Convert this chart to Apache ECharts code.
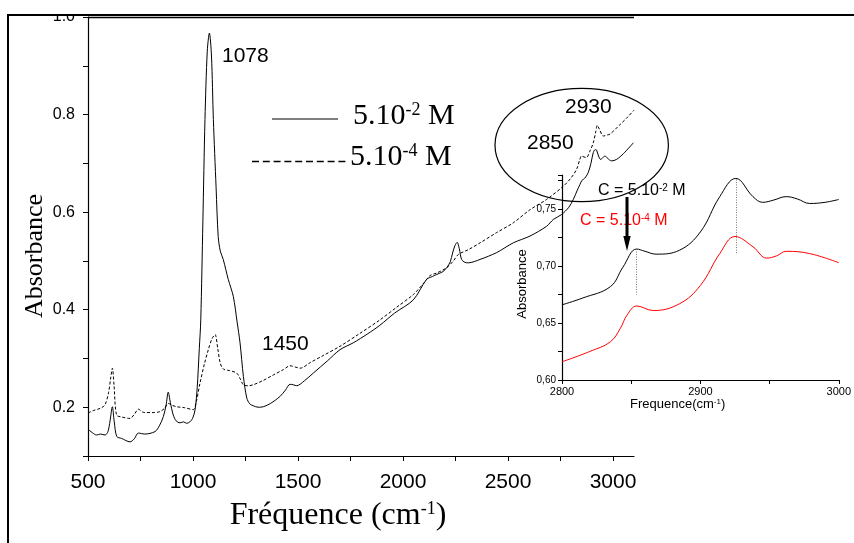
<!DOCTYPE html>
<html lang="fr">
<head>
<meta charset="UTF-8">
<title>Absorbance</title>
<script src="https://cdn.jsdelivr.net/npm/echarts@6/dist/echarts.min.js"></script>
<style>
    * { margin: 0; padding: 0; }
    html, body { width: 854px; height: 543px; background: #fff; }
    #main { width: 854px; height: 543px; }
</style>
</head>
<body>
<div id="main"></div>
<script>
    // spectre principal, 5.10-2 M (trait plein)
    var freqHigh = [500, 520, 541, 560, 581, 595, 605, 616, 625, 637, 660, 700, 720, 740, 770, 819, 840, 859, 872, 882, 892, 906, 920, 938, 955, 970, 985, 998,
        1010, 1020, 1030, 1037, 1047, 1057, 1068, 1078, 1088, 1097, 1110, 1120, 1130, 1144, 1168, 1192, 1210, 1224, 1240, 1256, 1270, 1287, 1310, 1335, 1370,
        1414, 1440, 1462, 1478, 1494, 1530, 1573, 1640, 1700, 1763, 1830, 1890, 1960, 2049, 2112, 2140, 2160, 2190, 2208, 2225, 2236, 2248, 2258, 2268, 2279,
        2295, 2311, 2367, 2446, 2525, 2605, 2684, 2716, 2755, 2790, 2811, 2830, 2843, 2852, 2859, 2870, 2882, 2895, 2906, 2915, 2922, 2931, 2941, 2950, 2962,
        2975, 2993, 3017, 3050, 3097];
    var absHigh = [0.155, 0.148, 0.143, 0.145, 0.143, 0.150, 0.172, 0.201, 0.170, 0.140, 0.136, 0.129, 0.135, 0.147, 0.145, 0.150, 0.162, 0.181, 0.205, 0.231,
        0.210, 0.184, 0.172, 0.168, 0.170, 0.167, 0.170, 0.177, 0.195, 0.240, 0.320, 0.379, 0.580, 0.790, 0.930, 0.967, 0.920, 0.790, 0.650, 0.550, 0.520, 0.503,
        0.462, 0.427, 0.375, 0.332, 0.263, 0.219, 0.207, 0.203, 0.200, 0.201, 0.208, 0.222, 0.235, 0.247, 0.246, 0.244, 0.254, 0.270, 0.295, 0.318, 0.332, 0.350,
        0.368, 0.393, 0.420, 0.462, 0.468, 0.472, 0.478, 0.486, 0.498, 0.516, 0.532, 0.538, 0.525, 0.503, 0.497, 0.496, 0.503, 0.517, 0.537, 0.551, 0.571, 0.585,
        0.595, 0.610, 0.626, 0.645, 0.657, 0.665, 0.667, 0.672, 0.681, 0.700, 0.722, 0.728, 0.727, 0.715, 0.708, 0.711, 0.715, 0.710, 0.705, 0.708, 0.720, 0.742];

    // spectre principal, 5.10-4 M (pointillés)
    var freqLow = [500, 525, 560, 581, 598, 608, 616, 624, 636, 660, 700, 720, 740, 760, 779, 810, 843, 865, 882, 900, 922, 960, 1001, 1015, 1033, 1055, 1073,
        1090, 1105, 1118, 1130, 1145, 1175, 1208, 1225, 1240, 1265, 1287, 1330, 1382, 1430, 1462, 1490, 1510, 1560, 1620, 1700, 1790, 1890, 1970, 2049, 2100,
        2129, 2160, 2208, 2240, 2263, 2311, 2367, 2446, 2525, 2605, 2684, 2763, 2800, 2827, 2842, 2850, 2862, 2874, 2890, 2906, 2918, 2925, 2935, 2954, 2970,
        2986, 3030, 3070, 3100];
    var absLow = [0.188, 0.193, 0.198, 0.205, 0.230, 0.260, 0.280, 0.245, 0.184, 0.180, 0.177, 0.185, 0.196, 0.190, 0.189, 0.189, 0.191, 0.198, 0.208, 0.204,
        0.201, 0.199, 0.195, 0.210, 0.249, 0.290, 0.318, 0.340, 0.349, 0.320, 0.290, 0.278, 0.275, 0.270, 0.258, 0.246, 0.244, 0.246, 0.254, 0.266, 0.277, 0.285,
        0.282, 0.280, 0.292, 0.306, 0.325, 0.350, 0.379, 0.405, 0.431, 0.455, 0.470, 0.475, 0.486, 0.500, 0.513, 0.523, 0.537, 0.558, 0.578, 0.605, 0.626, 0.653,
        0.670, 0.688, 0.708, 0.715, 0.713, 0.712, 0.725, 0.742, 0.765, 0.778, 0.770, 0.756, 0.758, 0.760, 0.778, 0.795, 0.809];

    // encart 2800-3000
    var insetFreqHigh = [2800, 2815, 2835, 2844, 2854, 2860, 2868, 2885, 2900, 2914, 2925.6, 2938, 2945, 2953, 2962, 2970, 2979, 2990, 3000];
    var insetAbsHigh = [0.666, 0.672, 0.682, 0.699, 0.715, 0.713, 0.7105, 0.714, 0.730, 0.761, 0.777, 0.761, 0.756, 0.758, 0.761, 0.759, 0.755, 0.756, 0.7585];
    var insetFreqLow = [2800, 2820, 2835, 2842, 2847, 2854, 2866, 2885, 2900, 2914, 2925, 2938, 2948, 2955, 2962, 2979, 3000];
    var insetAbsLow = [0.616, 0.625, 0.6336, 0.645, 0.657, 0.665, 0.661, 0.667, 0.683, 0.711, 0.726, 0.717, 0.707, 0.709, 0.713, 0.711, 0.703];

    // repères pointillés des pics 2850 / 2930
    var peakFreq = [2854, 2926];
    var peakTop = [0.715, 0.776];
    var peakBottom = [0.675, 0.710];

    function pairs(xs, ys) {
        return xs.map(function (x, i) { return [x, ys[i]]; });
    }

    var sans = 'Liberation Sans';
    var serif = 'Liberation Serif';

    var myChart = echarts.init(document.getElementById('main'));

    var axisBlack = { lineStyle: { color: '#000', width: 1.2 } };

    var option = {
        animation: false,
        backgroundColor: '#fff',
        grid: [
            { left: 88, top: 17, right: 220, bottom: 87 },
            { left: 562, top: 175, right: 15, bottom: 163 }
        ],
        xAxis: [{
            gridIndex: 0,
            type: 'value',
            min: 500,
            max: 3100,
            interval: 250,
            axisLine: axisBlack,
            axisTick: { length: 5, lineStyle: { color: '#000' } },
            splitLine: { show: false },
            axisLabel: {
                margin: 16, color: '#000', fontFamily: sans, fontSize: 21, showMaxLabel: false,
                formatter: function (v) { return v % 500 === 0 ? String(v) : ''; }
            }
        }, {
            gridIndex: 1,
            type: 'value',
            min: 2800,
            max: 3000,
            interval: 100,
            axisLine: axisBlack,
            axisTick: { length: 4, lineStyle: { color: '#000' } },
            minorTick: { show: true, splitNumber: 2, length: 4, lineStyle: { color: '#000' } },
            splitLine: { show: false },
            axisLabel: {
                margin: 6, color: '#000', fontFamily: sans, fontSize: 11,
                formatter: function (v) { return String(v); }
            }
        }],
        yAxis: [{
            gridIndex: 0,
            type: 'value',
            min: 0.1,
            max: 1.0,
            interval: 0.1,
            axisLine: axisBlack,
            axisTick: { length: 5, lineStyle: { color: '#000' } },
            splitLine: { show: false },
            axisLabel: {
                margin: 13, color: '#000', fontFamily: sans, fontSize: 16,
                formatter: function (v) { return Math.round(v * 10) % 2 === 0 ? v.toFixed(1) : ''; }
            }
        }, {
            gridIndex: 1,
            type: 'value',
            min: 0.6,
            max: 0.78,
            interval: 0.05,
            axisLine: axisBlack,
            axisTick: { length: 4, lineStyle: { color: '#000' } },
            minorTick: { show: true, splitNumber: 2, length: 4, lineStyle: { color: '#000' } },
            splitLine: { show: false },
            axisLabel: {
                margin: 6, color: '#000', fontFamily: sans, fontSize: 10, showMaxLabel: false,
                formatter: function (v) { return v.toFixed(2).replace('.', ','); }
            }
        }],
        series: [{
            type: 'line', xAxisIndex: 0, yAxisIndex: 0,
            data: pairs(freqHigh, absHigh),
            showSymbol: false, smooth: 0.3,
            lineStyle: { color: '#000', width: 1 }
        }, {
            type: 'line', xAxisIndex: 0, yAxisIndex: 0,
            data: pairs(freqLow, absLow),
            showSymbol: false, smooth: 0.3,
            lineStyle: { color: '#000', width: 1, type: [3, 2] }
        }, {
            type: 'line', xAxisIndex: 1, yAxisIndex: 1,
            data: pairs(insetFreqHigh, insetAbsHigh),
            showSymbol: false, smooth: 0.4,
            lineStyle: { color: '#000', width: 1 },
            markLine: {
                silent: true,
                symbol: 'none',
                label: { show: false },
                lineStyle: { color: '#777', width: 1, type: [1, 1.5] },
                data: peakFreq.map(function (f, i) {
                    return [{ coord: [f, peakTop[i]] }, { coord: [f, peakBottom[i]] }];
                })
            }
        }, {
            type: 'line', xAxisIndex: 1, yAxisIndex: 1,
            data: pairs(insetFreqLow, insetAbsLow),
            showSymbol: false, smooth: 0.4,
            lineStyle: { color: '#ff0000', width: 1 }
        }],
        graphic: [
            // bord découpé en haut
            { type: 'rect', shape: { x: 0, y: 0, width: 854, height: 14 }, style: { fill: '#fff' }, z: 100 },
            { type: 'line', shape: { x1: 7, y1: 15, x2: 854, y2: 15 }, style: { stroke: '#000', lineWidth: 2 }, z: 101 },
            { type: 'line', shape: { x1: 8, y1: 15, x2: 8, y2: 543 }, style: { stroke: '#000', lineWidth: 2 }, z: 101 },
            { type: 'line', shape: { x1: 88, y1: 17.5, x2: 634, y2: 17.5 }, style: { stroke: '#000', lineWidth: 1.3 }, z: 101 },

            // titres des axes
            {
                type: 'text', x: 338, y: 516, z: 50,
                style: {
                    text: '{n|Fréquence (cm}{s|-1}{n|)}', align: 'center', verticalAlign: 'middle',
                    rich: { n: { fontFamily: serif, fontSize: 32, fill: '#000' }, s: { fontFamily: serif, fontSize: 18, fill: '#000', verticalAlign: 'top' } }
                }
            },
            {
                type: 'text', x: 35, y: 256, rotation: Math.PI / 2, z: 50,
                style: { text: 'Absorbance', align: 'center', verticalAlign: 'middle', fontFamily: serif, fontSize: 26, fill: '#000' }
            },
            {
                type: 'text', x: 630, y: 404, z: 50,
                style: {
                    text: '{n|Frequence(cm}{s|-1}{n|)}', align: 'left', verticalAlign: 'middle',
                    rich: { n: { fontFamily: sans, fontSize: 13, fill: '#000' }, s: { fontFamily: sans, fontSize: 8, fill: '#000', verticalAlign: 'top' } }
                }
            },
            {
                type: 'text', x: 522, y: 284, rotation: Math.PI / 2, z: 50,
                style: { text: 'Absorbance', align: 'center', verticalAlign: 'middle', fontFamily: sans, fontSize: 13, fill: '#000' }
            },

            // légende
            { type: 'line', shape: { x1: 272, y1: 119, x2: 338, y2: 119 }, style: { stroke: '#000', lineWidth: 1.2 }, z: 50 },
            {
                type: 'text', x: 353, y: 116, z: 50,
                style: {
                    text: '{n|5.10}{s|-2}{n| M}', align: 'left', verticalAlign: 'middle',
                    rich: { n: { fontFamily: serif, fontSize: 30, fill: '#000' }, s: { fontFamily: serif, fontSize: 18, fill: '#000', verticalAlign: 'top' } }
                }
            },
            { type: 'line', shape: { x1: 252, y1: 161.5, x2: 349, y2: 161.5 }, style: { stroke: '#000', lineWidth: 1.5, lineDash: [7, 3.8] }, z: 50 },
            {
                type: 'text', x: 350, y: 157, z: 50,
                style: {
                    text: '{n|5.10}{s|-4}{n| M}', align: 'left', verticalAlign: 'middle',
                    rich: { n: { fontFamily: serif, fontSize: 30, fill: '#000' }, s: { fontFamily: serif, fontSize: 18, fill: '#000', verticalAlign: 'top' } }
                }
            },

            // annotations des pics
            { type: 'text', x: 222, y: 56, z: 50, style: { text: '1078', align: 'left', verticalAlign: 'middle', fontFamily: sans, fontSize: 21, fill: '#000' } },
            { type: 'text', x: 262, y: 344, z: 50, style: { text: '1450', align: 'left', verticalAlign: 'middle', fontFamily: sans, fontSize: 21, fill: '#000' } },
            { type: 'text', x: 565, y: 107, z: 50, style: { text: '2930', align: 'left', verticalAlign: 'middle', fontFamily: sans, fontSize: 21, fill: '#000' } },
            { type: 'text', x: 527, y: 143, z: 50, style: { text: '2850', align: 'left', verticalAlign: 'middle', fontFamily: sans, fontSize: 21, fill: '#000' } },
            { type: 'ellipse', shape: { cx: 581.7, cy: 145, rx: 86.7, ry: 56.7 }, style: { fill: 'none', stroke: '#000', lineWidth: 1.2 }, z: 50 },

            // encart : concentrations + flèche
            {
                type: 'text', x: 598, y: 191, z: 50,
                style: {
                    text: '{n|C = 5.10}{s|-2}{n| M}', align: 'left', verticalAlign: 'middle',
                    rich: { n: { fontFamily: sans, fontSize: 16, fill: '#000' }, s: { fontFamily: sans, fontSize: 10, fill: '#000', verticalAlign: 'top' } }
                }
            },
            {
                type: 'text', x: 580, y: 221, z: 50,
                style: {
                    text: '{n|C = 5.10}{s|-4}{n| M}', align: 'left', verticalAlign: 'middle',
                    rich: { n: { fontFamily: sans, fontSize: 16, fill: '#ff0000' }, s: { fontFamily: sans, fontSize: 10, fill: '#ff0000', verticalAlign: 'top' } }
                }
            },
            { type: 'line', shape: { x1: 627, y1: 197, x2: 627, y2: 239 }, style: { stroke: '#000', lineWidth: 3 }, z: 60 },
            { type: 'polygon', shape: { points: [[623.3, 236], [630.7, 236], [627, 251]] }, style: { fill: '#000' }, z: 60 }
        ]
    };

    myChart.setOption(option);
</script>
</body>
</html>
